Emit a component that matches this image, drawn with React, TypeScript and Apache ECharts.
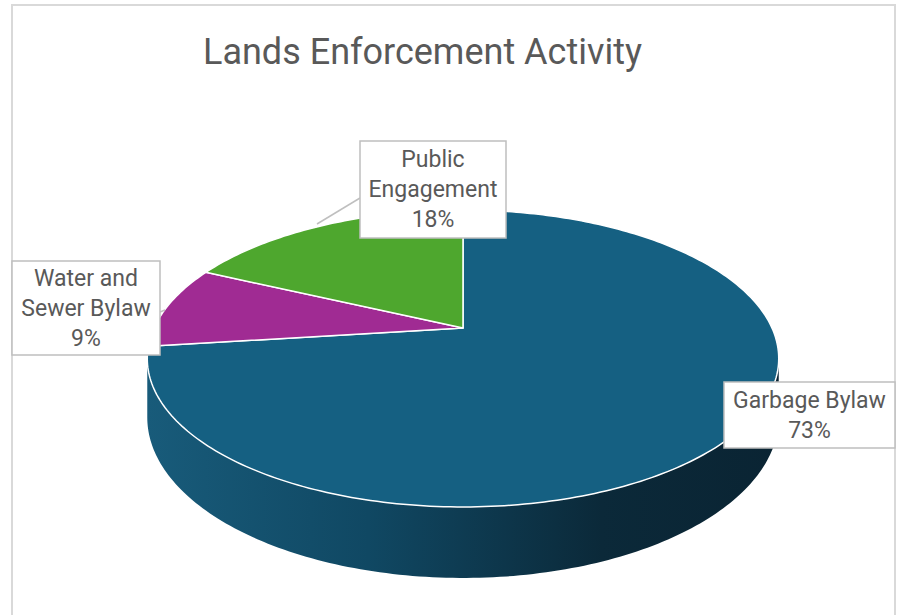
import React, { useEffect, useRef } from "react";
import * as echarts from "echarts";

// ---- data ----
const CATEGORIES = ["Garbage Bylaw", "Water and Sewer Bylaw", "Public Engagement"];
const VALUES = [73, 9, 18];
const LABEL_LINES = [["Garbage Bylaw"], ["Water and", "Sewer Bylaw"], ["Public", "Engagement"]];
const COLORS = ["#156082", "#A02B93", "#4EA72E"];
const TITLE = "Lands Enforcement Activity";

// ---- layout (positions / styles) ----
const CX = 463;
const CY = 328;
const RX = 309;
const RY = 142.2;
const K = 0.2054; // perspective factor
const DEPTH = 56.4;
const LABEL_BOXES = [
  [724, 382, 171, 66],
  [12, 261, 148, 94],
  [360, 141, 146, 97],
];
const LEADERS: number[][][] = [
  [],
  [[160, 312], [165, 310]],
  [[360, 198], [317, 224]],
];
const FONT = "Roboto, 'Noto Sans', sans-serif";
const TEXT_COLOR = "#595959";

function proj(theta: number, depth: number): number[] {
  const u = Math.sin(theta);
  const v = -Math.cos(theta);
  const s = 1 / (1 - K * v);
  return [CX + RX * u * s, CY + RY * v * s + depth * s];
}

export default function App() {
  const ref = useRef<HTMLDivElement>(null);
  useEffect(() => {
    if (!ref.current) return;
    const chart = echarts.init(ref.current, undefined, { renderer: "svg" });
    const total = VALUES.reduce((a, b) => a + b, 0);
    const starts: number[] = [];
    let acc = 0;
    VALUES.forEach((v) => {
      starts.push(acc);
      acc += v;
    });
    const visA = Math.acos(-K);
    const visB = 2 * Math.PI - visA;

    const renderItem = (params: any, api: any) => {
      const i = params.dataIndex;
      const val = api.value(0);
      const a0 = (starts[i] / total) * Math.PI * 2;
      const a1 = a0 + (val / total) * Math.PI * 2;
      const children: any[] = [];
      const steps = Math.max(4, Math.ceil(((a1 - a0) * 180) / Math.PI));
      const sa = Math.max(a0, visA);
      const sb = Math.min(a1, visB);
      if (sb > sa) {
        const n = Math.max(4, Math.ceil(((sb - sa) * 180) / Math.PI));
        const top: number[][] = [];
        const bot: number[][] = [];
        for (let j = 0; j <= n; j++) {
          const t = sa + ((sb - sa) * j) / n;
          top.push(proj(t, 0));
          bot.push(proj(t, DEPTH));
        }
        const pts = top.concat(bot.reverse());
        children.push({
          type: "polygon",
          z2: 1,
          shape: { points: pts },
          style: {
            fill: new echarts.graphic.LinearGradient(
              CX - RX * 1.022,
              0,
              CX + RX * 1.022,
              0,
              [
                { offset: 0, color: "#185b7a" },
                { offset: 0.35, color: "#104863" },
                { offset: 0.72, color: "#0b2939" },
                { offset: 1, color: "#0a2433" },
              ],
              true
            ),
          },
        });
      }
      const pts: number[][] = [[CX, CY]];
      for (let j = 0; j <= steps; j++) {
        const t = a0 + ((a1 - a0) * j) / steps;
        pts.push(proj(t, 0));
      }
      children.push({
        type: "polygon",
        z2: 10,
        shape: { points: pts },
        style: { fill: COLORS[i], stroke: "#ffffff", lineWidth: 1.5, lineJoin: "round" },
      });
      if (LEADERS[i].length) {
        children.push({
          type: "polyline",
          z2: 20,
          shape: { points: LEADERS[i] },
          style: { stroke: "#bfbfbf", lineWidth: 1.5, fill: "none" },
        });
      }
      const b = LABEL_BOXES[i];
      const pct = Math.round((val / total) * 100) + "%";
      children.push({
        type: "rect",
        z2: 21,
        shape: { x: b[0], y: b[1], width: b[2], height: b[3] },
        style: { fill: "#ffffff", stroke: "#bfbfbf", lineWidth: 1.5 },
      });
      children.push({
        type: "text",
        z2: 22,
        x: b[0] + b[2] / 2,
        y: b[1] + b[3] / 2,
        style: {
          text: LABEL_LINES[i].concat([pct]).join("\n"),
          align: "center",
          verticalAlign: "middle",
          fontSize: 23,
          lineHeight: 30,
          fill: TEXT_COLOR,
          fontFamily: FONT,
        },
      });
      return { type: "group", children };
    };

    chart.setOption({
      animation: false,
      backgroundColor: "#ffffff",
      title: {
        text: TITLE,
        left: 198,
        top: 29,
        textStyle: { fontSize: 36, fontWeight: "normal", color: TEXT_COLOR, fontFamily: FONT },
      },
      graphic: [
        {
          type: "rect",
          shape: { x: 12, y: 5, width: 883, height: 640 },
          style: { fill: "none", stroke: "#d9d9d9", lineWidth: 2 },
          z: -1,
        },
      ],
      series: [
        {
          type: "custom",
          coordinateSystem: "none",
          renderItem,
          data: VALUES.map((v, i) => ({ name: CATEGORIES[i], value: [v] })),
        },
      ],
    });
    return () => chart.dispose();
  }, []);
  return (
    <div
      ref={ref}
      style={{ position: "fixed", left: 0, top: 0, width: 903, height: 615, background: "#fff" }}
    />
  );
}
